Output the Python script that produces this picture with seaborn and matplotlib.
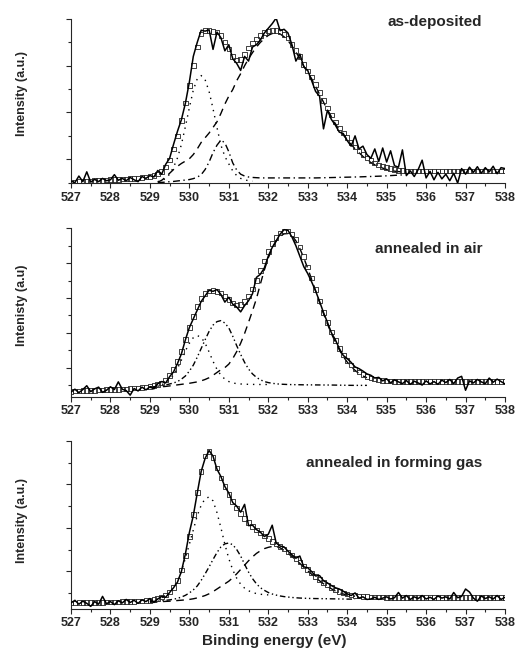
import numpy as np
import matplotlib
matplotlib.use("Agg")
import matplotlib.pyplot as plt
import seaborn as sns
from matplotlib.ticker import MultipleLocator, FixedLocator, NullFormatter

# binding energy grid of the measured spectra (eV)
energy = np.round(np.arange(527.0, 538.05, 0.1), 1)

# ---- as-deposited ----
dep_data = [30, 0, 140, 20, 230, 10, 70, 20, 90, 40,
            60, 170, 50, 90, 40, 110, 60, 20, 130, 90,
            150, 120, 260, 180, 390, 520, 820, 1100, 1350, 1700,
            2150, 2700, 3000, 3260, 3240, 3270, 2850, 3220, 3100, 2820,
            2950, 2650, 2550, 2400, 2700, 2600, 2900, 2950, 3050, 3200,
            3300, 3400, 3520, 3250, 3280, 3200, 2950, 2600, 2750, 2480,
            2400, 2180, 1950, 1850, 1150, 1550, 1350, 1230, 1080, 1050,
            900, 780, 1000, 720, 780, 600, 520, 720, 450, 740,
            440, 680, 360, 330, 700, 150, 250, 130, 280, 480,
            100, 240, 60, 220, 80, 180, 40, 200, -10, 300,
            180, 330, 220, 340, 200, 320, 230, 350, 190, 320,
            300]
dep_fit = [10, 15, 20, 25, 30, 35, 40, 45, 50, 55,
           60, 65, 70, 75, 80, 85, 90, 100, 110, 120,
           135, 155, 185, 240, 330, 480, 720, 1000, 1330, 1700,
           2080, 2500, 2900, 3180, 3260, 3250, 3230, 3220, 3150, 3010,
           2860, 2700, 2620, 2640, 2740, 2880, 2990, 3070, 3150, 3210,
           3240, 3260, 3260, 3230, 3170, 3090, 2960, 2830, 2700, 2530,
           2390, 2260, 2100, 1930, 1760, 1600, 1450, 1300, 1170, 1060,
           960, 860, 760, 680, 600, 530, 470, 420, 380, 350,
           320, 300, 280, 265, 255, 250, 250, 250, 250, 250,
           250, 250, 250, 250, 250, 250, 250, 250, 250, 250,
           250, 250, 250, 250, 250, 250, 250, 250, 250, 250,
           250]
dep_peak1_start = 529.2
dep_peak1 = [20, 40, 90, 180, 330, 530, 820, 1200,
             1600, 1980, 2220, 2290, 2200, 1950, 1580, 1180, 800, 560,
             400, 250, 150, 90, 60, 40, 30]
dep_peak2_start = 529.2
dep_peak2 = [0, 5, 10, 20, 25, 35, 45, 55,
             65, 85, 115, 170, 280, 440, 640, 800, 910, 850,
             660, 420, 270, 180, 140, 120, 110, 105, 100, 100,
             100, 100, 100, 100, 100, 100, 100, 100, 100, 100,
             100, 100, 100, 102, 104, 106, 108, 110, 112, 114,
             116, 118, 120, 122, 125, 128, 131, 134, 137, 140,
             145, 150, 155, 160, 165]
dep_peak3_start = 529.2
dep_peak3 = [10, 50, 120, 200, 280, 350, 410, 460,
             510, 600, 720, 860, 960, 1060, 1180, 1300, 1480, 1680,
             1850, 1990, 2180, 2330, 2500, 2650, 2780, 2900, 3000, 3080,
             3150, 3190, 3200, 3180, 3120, 3040, 2920, 2790, 2660, 2490,
             2350, 2220, 2060, 1890, 1720, 1560, 1410, 1260, 1130, 1020,
             920, 820, 720, 640, 560, 490, 430, 380, 340, 310,
             280, 260, 245, 235, 230]

# ---- annealed in air ----
air_data = [-200, -120, -220, -130, -20, -190, -110, -60, -210, -150,
            -50, -130, 90, -120, -160, -290, -100, -170, -60, -140,
            -50, -110, 40, 100, 60, 240, 380, 620, 900, 1300,
            1650, 1900, 2150, 2400, 2560, 2720, 2690, 2740, 2600, 2380,
            2520, 2320, 2240, 2100, 2280, 2420, 2620, 3090, 3180, 3360,
            3700, 3950, 4140, 4330, 4460, 4440, 4250, 4000, 3700, 3400,
            3200, 2960, 2700, 2400, 2080, 1800, 1500, 1300, 1050, 850,
            760, 650, 520, 470, 400, 320, 280, 200, 220, 120,
            180, 60, 150, 90, 40, 130, 20, 110, 60, 0,
            120, 30, 100, 20, 140, 70, 160, 40, 200, 250,
            -150, 120, 60, 160, 90, 40, 200, 80, 170, 100,
            30]
air_fit = [-180, -175, -170, -165, -160, -155, -150, -145, -140, -135,
           -130, -125, -120, -115, -110, -100, -90, -80, -70, -55,
           -40, -20, 10, 60, 140, 270, 450, 680, 960, 1300,
           1650, 1970, 2260, 2490, 2630, 2700, 2710, 2690, 2640, 2560,
           2460, 2360, 2300, 2310, 2400, 2560, 2760, 3000, 3280, 3560,
           3830, 4060, 4240, 4360, 4420, 4420, 4340, 4180, 3960, 3690,
           3390, 3070, 2740, 2410, 2090, 1790, 1520, 1270, 1050, 860,
           700, 570, 460, 370, 300, 245, 200, 170, 145, 130,
           120, 112, 106, 102, 100, 100, 100, 100, 100, 100,
           100, 100, 100, 100, 100, 100, 100, 100, 100, 100,
           100, 100, 100, 100, 100, 100, 100, 100, 100, 100,
           100]
air_peak1_start = 529.0
air_peak1 = [-50, -40, -20, 10, 60, 150, 290, 480, 720, 980,
             1200, 1360, 1420, 1370, 1200, 950, 680, 450, 280, 170,
             100, 60, 40, 30, 25, 20, 18, 16, 15, 15,
             15]
air_peak2_start = 529.0
air_peak2 = [-60, -50, -35, -20, 0, 30, 60, 100, 170, 260,
             400, 570, 800, 1050, 1300, 1540, 1720, 1820, 1850, 1780,
             1640, 1400, 1130, 880, 650, 460, 320, 220, 150, 100,
             70, 50, 35, 25, 20, 15, 12, 10, 8, 6,
             5, 4, 3, 2, 1, 0, 0, -2, -4, -6,
             -8, -9, -10, -10, -10, -10]
air_peak3_start = 529.0
air_peak3 = [-70, -65, -60, -50, -40, -25, -10, 5, 20, 35,
             50, 70, 90, 120, 160, 210, 280, 360, 440, 500,
             600, 760, 960, 1200, 1480, 1800, 2130, 2480, 2900, 3300,
             3650, 3920, 4130, 4270, 4340, 4350, 4290, 4140, 3920, 3650,
             3350, 3030, 2700, 2370, 2050, 1750, 1480, 1230, 1010, 820,
             660, 530, 420, 330, 260, 210]

# ---- annealed in forming gas ----
fg_data = [-230, -170, -260, -190, -240, -310, -200, -260, -80, -250,
           -200, -270, -180, -230, -150, -220, -170, -240, -160, -200,
           -130, -220, -140, -80, -100, 10, 120, 250, 500, 900,
           1390, 1780, 2300, 2800, 3100, 3280, 3150, 2850, 2680, 2450,
           2300, 2080, 2000, 1860, 2040, 1550, 1560, 1460, 1400, 1300,
           1350, 1560, 1150, 1080, 1060, 960, 880, 800, 850, 600,
           580, 490, 390, 400, 280, 230, 170, 120, 90, 40,
           -20, -60, 0, -120, -90, -150, -140, -100, -150, -120,
           -90, -140, -110, 10, -120, -60, -150, -90, -130, -60,
           -140, -100, -150, -70, -120, -90, -140, 10, -110, -80,
           90, 20, -120, -190, -70, -130, -90, -140, -60, -150,
           -100]
fg_fit = [-230, -228, -226, -224, -222, -220, -218, -216, -214, -212,
          -210, -208, -206, -203, -200, -197, -193, -189, -184, -178,
          -170, -155, -130, -95, -45, 25, 130, 290, 530, 860,
          1300, 1800, 2320, 2800, 3150, 3260, 3120, 2880, 2650, 2450,
          2270, 2100, 1960, 1830, 1720, 1620, 1530, 1450, 1380, 1310,
          1250, 1190, 1130, 1070, 1010, 940, 870, 790, 710, 620,
          540, 460, 380, 310, 240, 180, 120, 70, 30, 0,
          -25, -45, -60, -72, -80, -86, -90, -93, -95, -97,
          -100, -100, -100, -100, -100, -100, -100, -100, -100, -100,
          -100, -100, -100, -100, -100, -100, -100, -100, -100, -100,
          -100, -100, -100, -100, -100, -100, -100, -100, -100, -100,
          -100]
fg_peak1_start = 529.0
fg_peak1 = [-170, -160, -140, -110, -60, 20, 130, 280, 500, 800,
            1120, 1450, 1780, 2020, 2170, 2210, 2120, 1850, 1500, 1120,
            790, 530, 340, 200, 110, 50, 10, -15, -30, -40,
            -45]
fg_peak2_start = 529.0
fg_peak2 = [-200, -195, -190, -180, -170, -160, -145, -125, -95, -55,
            0, 70, 160, 290, 440, 600, 770, 930, 1060, 1130,
            1150, 1110, 1000, 850, 660, 480, 330, 210, 120, 60,
            10, -25, -50, -70, -85, -95, -105, -112, -118, -122,
            -126, -128, -130, -131, -133, -134, -136, -137, -139, -140,
            -142, -143, -145]
fg_peak3_start = 529.0
fg_peak3 = [-215, -210, -205, -200, -195, -190, -183, -175, -168, -160,
            -150, -135, -115, -90, -60, -20, 30, 90, 150, 210,
            270, 350, 440, 540, 640, 740, 830, 910, 970, 1020,
            1050, 1070, 1070, 1040, 980, 910, 840, 760, 680, 590,
            510, 430, 350, 280, 210, 150, 95, 45, 5, -25,
            -50, -65, -75]

titles = ["as-deposited", "annealed in air", "annealed in forming gas"]
ylabels = ["Intensity (a.u.)", "Intenisty (a.u)", "Intensity (a.u.)"]

sns.set_style("ticks")
plt.rcParams['font.family'] = ['Liberation Sans', 'DejaVu Sans']
plt.rcParams['font.weight'] = 'bold'

fig = plt.figure(figsize=(5.17, 6.53), dpi=100)

panels = [
    dict(rect=[0.1373, 0.7193, 0.8395, 0.2516], ylim=(-15, 3500),
         data=dep_data, fit=dep_fit,
         peaks=[(dep_peak1_start, dep_peak1, (0, (1, 3.5))),
                (dep_peak2_start, dep_peak2, (0, (5, 2.5, 1, 2.5))),
                (dep_peak3_start, dep_peak3, (0, (5.5, 4)))],
         text_y=0.983, label_y=0.547),
    dict(rect=[0.1373, 0.3925, 0.8395, 0.2579], ylim=(-335, 4500),
         data=air_data, fit=air_fit,
         peaks=[(air_peak1_start, air_peak1, (0, (1, 3.5))),
                (air_peak2_start, air_peak2, (0, (4, 2, 1, 2, 1, 2))),
                (air_peak3_start, air_peak3, (0, (5.5, 4)))],
         text_y=0.877, label_y=0.545),
    dict(rect=[0.1373, 0.0674, 0.8395, 0.2573], ylim=(-370, 3500),
         data=fg_data, fit=fg_fit,
         peaks=[(fg_peak1_start, fg_peak1, (0, (1, 3.5))),
                (fg_peak2_start, fg_peak2, (0, (4, 2, 1, 2, 1, 2))),
                (fg_peak3_start, fg_peak3, (0, (5.5, 4)))],
         text_y=0.869, label_y=0.524),
]

for i, p in enumerate(panels):
    ax = fig.add_axes(p["rect"])
    for start, vals, ls in p["peaks"]:
        xs = np.round(start + 0.1 * np.arange(len(vals)), 1)
        sns.lineplot(x=xs, y=vals, color="black", linewidth=1.0,
                     linestyle=ls, ax=ax)
    sns.scatterplot(x=energy, y=p["fit"], marker="s", s=11,
                    facecolor="none", edgecolor="#222222", linewidth=0.6,
                    ax=ax, zorder=3)
    sns.lineplot(x=energy, y=p["data"], color="black", linewidth=1.1,
                 ax=ax, zorder=4)

    ax.set_xlim(527, 538)
    ax.set_ylim(*p["ylim"])
    ax.xaxis.set_major_locator(MultipleLocator(1))
    ax.xaxis.set_minor_locator(MultipleLocator(0.5))
    ax.yaxis.set_major_locator(FixedLocator([500, 1500, 2500, 3500, 4500]))
    ax.yaxis.set_minor_locator(FixedLocator([0, 1000, 2000, 3000, 4000]))
    ax.yaxis.set_major_formatter(NullFormatter())
    ax.tick_params(axis="x", which="major", length=3.5, width=0.8,
                   pad=2.5, labelsize=9)
    ax.tick_params(axis="x", which="minor", length=2.5, width=0.8)
    ax.tick_params(axis="y", which="major", length=3.8, width=0.8)
    ax.tick_params(axis="y", which="minor", length=2.2, width=0.8)
    for lab in ax.get_xticklabels():
        lab.set_fontweight("bold")
    sns.despine(ax=ax)
    for sp in ax.spines.values():
        sp.set_linewidth(0.8)

    ax.set_ylabel(ylabels[i], fontsize=9, fontweight="bold")
    ax.yaxis.set_label_coords(-0.098, p["label_y"])
    ax.text(0.948, p["text_y"], titles[i], transform=ax.transAxes,
            ha="right", va="center", fontsize=11, fontweight="bold")
    if i == 2:
        ax.set_xlabel("Binding energy (eV)", fontsize=11, fontweight="bold")
        ax.xaxis.set_label_coords(0.469, -0.15)
    else:
        ax.set_xlabel("")

fig.savefig("out.png", dpi=100)
